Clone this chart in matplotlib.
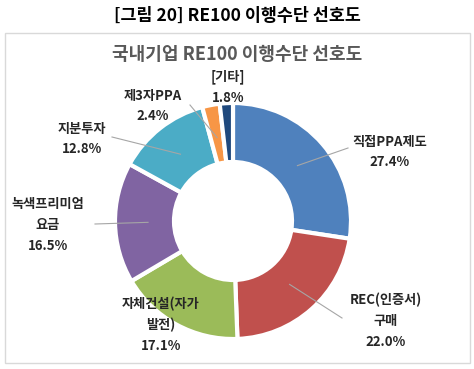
import numpy as np
import matplotlib.pyplot as plt
from matplotlib.patches import Rectangle

plt.rcParams['font.family'] = ['Noto Sans CJK KR', 'DejaVu Sans']

# data (clockwise from 12 o'clock)
labels = ['직접PPA제도', 'REC(인증서)\n구매', '자체건설(자가\n발전)', '녹색프리미엄\n요금',
          '지분투자', '제3자PPA', '[기타]']
shares = [27.4, 22.0, 17.1, 16.5, 12.8, 2.4, 1.8]
colors = ['#4F81BD', '#C0504D', '#9BBB59', '#8064A2', '#4BACC6', '#F79646', '#1F497D']

W, H = 474, 369
fig = plt.figure(figsize=(W / 100, H / 100), dpi=100)
ax = fig.add_axes([0, 0, 1, 1])

# frame around chart
ax.add_patch(Rectangle((5, 6), 465, 330, fill=False, edgecolor='#D9D9D9', lw=1))

fig.text(0.5, 1 - 16 / H, '[그림 20] RE100 이행수단 선호도', ha='center', va='center',
         fontsize=12.5, fontweight='bold', color='black')
fig.text(0.5, 1 - 55 / H, '국내기업 RE100 이행수단 선호도', ha='center', va='center',
         fontsize=13, fontweight='bold', color='#595959')

# donut (pixel coords, y measured from bottom)
cx, cy, R = 233, H - 221, 118
wedges, _ = ax.pie(shares, colors=colors, startangle=90, counterclock=False,
                   center=(cx, cy), radius=R, frame=True,
                   wedgeprops=dict(width=R * 0.5, edgecolor='white', linewidth=3))
ax.set_xlim(0, W)
ax.set_ylim(0, H)
ax.set_aspect('equal')
ax.axis('off')

# label layout in pixel coords (x, y from top) and leader line start
label_pos = [(390, 152), (386, 321), (161, 325), (48, 225), (82, 139), (153, 106), (228, 87)]
line_start = [(348, 148), (342, 318), None, (95, 224), (112, 137), (190, 105), None]

for w, lab, val, (lx, ly), ls in zip(wedges, labels, shares, label_pos, line_start):
    ang = np.deg2rad((w.theta1 + w.theta2) / 2)
    if ls is not None:
        ax_x = cx + 0.72 * R * np.cos(ang)
        ax_y = cy + 0.72 * R * np.sin(ang)
        ax.plot([ls[0], ax_x], [H - ls[1], ax_y], color='#A6A6A6', lw=0.8, zorder=5)
    ax.text(lx, H - ly, f'{lab}\n{val:.1f}%', ha='center', va='center', fontsize=9.5,
            fontweight='bold', color='#262626', linespacing=1.6, zorder=6)

fig.savefig('out.png', dpi=100)
